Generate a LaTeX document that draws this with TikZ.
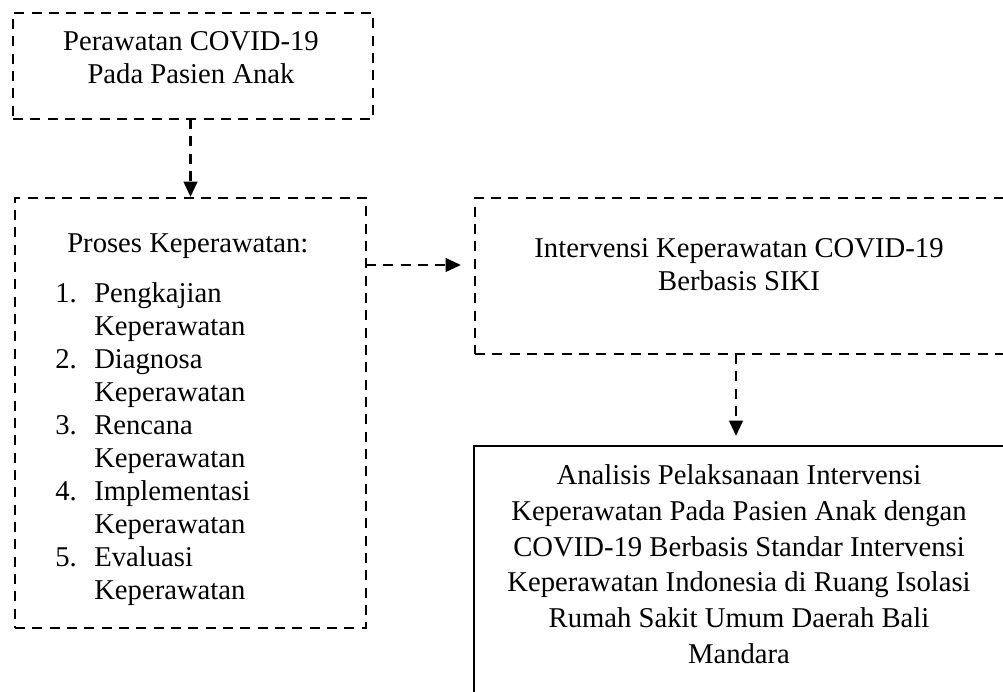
\documentclass[tikz,border=0pt]{standalone}
\usepackage{fontspec}
\setmainfont{Liberation Serif}
\usetikzlibrary{arrows.meta}
\begin{document}
\begin{tikzpicture}[x=0.75pt,y=-0.75pt,
  dbox/.style={draw, line width=2.2pt, dash pattern=on 7.5pt off 5.5pt, rectangle, inner sep=0pt, outer sep=0pt},
  sbox/.style={draw, line width=2.2pt, rectangle, inner sep=0pt, outer sep=0pt},
  arr/.style={line width=2.2pt, dash pattern=on 7.5pt off 5.5pt, -{Triangle[length=11.5pt,width=10pt]}},
  txt/.style={inner sep=0pt, font=\fontsize{21.5pt}{24.75pt}\selectfont}]
\useasboundingbox (0,0) rectangle (1003,692);
\fill[white] (0,0) rectangle (1003,692);
\clip (0,0) rectangle (1003,692);

% boxes
\node[dbox, minimum width=270pt, minimum height=79.5pt] (b1) at (193,66) {};
\node[dbox, minimum width=263.25pt, minimum height=322.5pt] (b2) at (190.5,413) {};
\node[dbox, minimum width=399.75pt, minimum height=117pt] (b3) at (741.5,276) {};
\node[sbox, minimum width=400.5pt, minimum height=190.5pt] (b4) at (741,573) {};

% box 1 text
\node[txt, anchor=base] (t1a) at (191,51) {Perawatan COVID-19};
\node[txt, anchor=base] (t1b) at (191,84) {Pada Pasien Anak};

% box 2 text
\node[txt, anchor=base west] (t2h) at (67,252) {Proses Keperawatan:};
\node[txt, anchor=base west] (n1) at (55,302) {1.};
\node[txt, anchor=base west] (l1a) at (94,302) {Pengkajian};
\node[txt, anchor=base west] (l1b) at (94,335) {Keperawatan};
\node[txt, anchor=base west] (n2) at (55,368) {2.};
\node[txt, anchor=base west] (l2a) at (94,368) {Diagnosa};
\node[txt, anchor=base west] (l2b) at (94,401) {Keperawatan};
\node[txt, anchor=base west] (n3) at (55,434) {3.};
\node[txt, anchor=base west] (l3a) at (94,434) {Rencana};
\node[txt, anchor=base west] (l3b) at (94,467) {Keperawatan};
\node[txt, anchor=base west] (n4) at (55,500) {4.};
\node[txt, anchor=base west] (l4a) at (94,500) {Implementasi};
\node[txt, anchor=base west] (l4b) at (94,533) {Keperawatan};
\node[txt, anchor=base west] (n5) at (55,566) {5.};
\node[txt, anchor=base west] (l5a) at (94,566) {Evaluasi};
\node[txt, anchor=base west] (l5b) at (94,599) {Keperawatan};

% box 3 text
\node[txt, anchor=base] (t3a) at (739,257) {Intervensi Keperawatan COVID-19};
\node[txt, anchor=base] (t3b) at (739,290) {Berbasis SIKI};

% box 4 text
\node[txt, anchor=base] (t4a) at (739,484) {Analisis Pelaksanaan Intervensi};
\node[txt, anchor=base] (t4b) at (739,520) {Keperawatan Pada Pasien Anak dengan};
\node[txt, anchor=base] (t4c) at (739,556) {COVID-19 Berbasis Standar Intervensi};
\node[txt, anchor=base] (t4d) at (739,591) {Keperawatan Indonesia di Ruang Isolasi};
\node[txt, anchor=base] (t4e) at (739,627) {Rumah Sakit Umum Daerah Bali};
\node[txt, anchor=base] (t4f) at (739,663) {Mandara};

% connectors
\coordinate (h2) at (0,265);
\coordinate (v3) at (736,0);
\draw[arr, shorten >=0.75pt] (b1.south -| b2.north) -- (b2.north);
\draw[arr, shorten >=10.5pt] (b2.east |- h2) -- (b3.west |- h2);
\draw[arr, shorten >=7.5pt] (b3.south -| v3) -- (b4.north -| v3);
\end{tikzpicture}
\end{document}
